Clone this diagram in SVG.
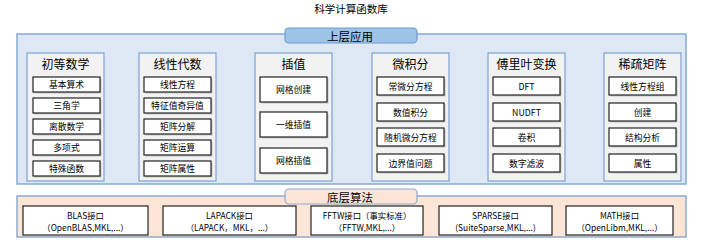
<svg xmlns="http://www.w3.org/2000/svg" width="703" height="250" viewBox="0 0 703 250">
<style>
text{font-family:"Noto Sans CJK SC","Liberation Sans",sans-serif;fill:#000;text-anchor:middle;dominant-baseline:central}
.title{font-size:10.5px}
.tab{font-size:11.5px}
.hd{font-size:12px}
.it{font-size:8.8px}
.lo{font-size:8.4px}
.up{fill:#dee8f4;stroke:#86aad2;stroke-width:1.5}
.low{fill:#fbe5d6;stroke:#8faacb;stroke-width:1.5}
.tabu{fill:#9dc3e6;stroke:#6f9bd0;stroke-width:1.2}
.tabl{fill:#fbe5d6;stroke:#8faacb;stroke-width:1.2}
.col{fill:#f2f2f2;stroke:#7aa2d2;stroke-width:1.2}
.box{fill:#fff;stroke:#222;stroke-width:1.2}
.sh{fill:#aaa;opacity:0.6}
</style>
<text class="title" x="351" y="8">科学计算函数库</text>
<g id="upper">
<rect class="up" x="17" y="34" width="669" height="150"/>
<rect class="tabu" x="285" y="28" width="132" height="15" rx="4"/>
<text class="tab" x="350" y="35.5">上层应用</text>
</g>
<g id="col1">
<rect class="col" x="27" y="53" width="77" height="128"/>
<text class="hd" x="65.5" y="63">初等数学</text>
<rect class="sh" x="34.5" y="78.5" width="67" height="15"/><rect class="box" x="33" y="77" width="67" height="15"/><text class="it" x="66.5" y="84.5">基本算术</text>
<rect class="sh" x="34.5" y="99.5" width="67" height="15"/><rect class="box" x="33" y="98" width="67" height="15"/><text class="it" x="66.5" y="105.5">三角学</text>
<rect class="sh" x="34.5" y="120.5" width="67" height="15"/><rect class="box" x="33" y="119" width="67" height="15"/><text class="it" x="66.5" y="126.5">离散数学</text>
<rect class="sh" x="34.5" y="141.5" width="67" height="15"/><rect class="box" x="33" y="140" width="67" height="15"/><text class="it" x="66.5" y="147.5">多项式</text>
<rect class="sh" x="34.5" y="162.5" width="67" height="15"/><rect class="box" x="33" y="161" width="67" height="15"/><text class="it" x="66.5" y="168.5">特殊函数</text>
</g>
<g id="col2">
<rect class="col" x="139" y="53" width="77" height="128"/>
<text class="hd" x="177.5" y="63">线性代数</text>
<rect class="sh" x="145.5" y="78.5" width="67" height="15"/><rect class="box" x="144" y="77" width="67" height="15"/><text class="it" x="177.5" y="84.5">线性方程</text>
<rect class="sh" x="145.5" y="99.5" width="67" height="15"/><rect class="box" x="144" y="98" width="67" height="15"/><text class="it" x="177.5" y="105.5">特征值奇异值</text>
<rect class="sh" x="145.5" y="120.5" width="67" height="15"/><rect class="box" x="144" y="119" width="67" height="15"/><text class="it" x="177.5" y="126.5">矩阵分解</text>
<rect class="sh" x="145.5" y="141.5" width="67" height="15"/><rect class="box" x="144" y="140" width="67" height="15"/><text class="it" x="177.5" y="147.5">矩阵运算</text>
<rect class="sh" x="145.5" y="162.5" width="67" height="15"/><rect class="box" x="144" y="161" width="67" height="15"/><text class="it" x="177.5" y="168.5">矩阵属性</text>
</g>
<g id="col3">
<rect class="col" x="255" y="53" width="77" height="128"/>
<text class="hd" x="293.5" y="63">插值</text>
<rect class="sh" x="261.5" y="78.5" width="67" height="25"/><rect class="box" x="260" y="77" width="67" height="25"/><text class="it" x="293.5" y="89.5">网格创建</text>
<rect class="sh" x="261.5" y="113.5" width="67" height="25"/><rect class="box" x="260" y="112" width="67" height="25"/><text class="it" x="293.5" y="124.5">一维插值</text>
<rect class="sh" x="261.5" y="149.5" width="67" height="25"/><rect class="box" x="260" y="148" width="67" height="25"/><text class="it" x="293.5" y="160.5">网格插值</text>
</g>
<g id="col4">
<rect class="col" x="372" y="53" width="77" height="128"/>
<text class="hd" x="410.5" y="63">微积分</text>
<rect class="sh" x="378.5" y="78.5" width="67" height="18"/><rect class="box" x="377" y="77" width="67" height="18"/><text class="it" x="410.5" y="86">常微分方程</text>
<rect class="sh" x="378.5" y="104.5" width="67" height="18"/><rect class="box" x="377" y="103" width="67" height="18"/><text class="it" x="410.5" y="112">数值积分</text>
<rect class="sh" x="378.5" y="129.5" width="67" height="18"/><rect class="box" x="377" y="128" width="67" height="18"/><text class="it" x="410.5" y="137">随机微分方程</text>
<rect class="sh" x="378.5" y="155.5" width="67" height="18"/><rect class="box" x="377" y="154" width="67" height="18"/><text class="it" x="410.5" y="163">边界值问题</text>
</g>
<g id="col5">
<rect class="col" x="488" y="53" width="77" height="128"/>
<text class="hd" x="526.5" y="63">傅里叶变换</text>
<rect class="sh" x="494.5" y="78.5" width="67" height="18"/><rect class="box" x="493" y="77" width="67" height="18"/><text class="it" x="526.5" y="86">DFT</text>
<rect class="sh" x="494.5" y="104.5" width="67" height="18"/><rect class="box" x="493" y="103" width="67" height="18"/><text class="it" x="526.5" y="112">NUDFT</text>
<rect class="sh" x="494.5" y="129.5" width="67" height="18"/><rect class="box" x="493" y="128" width="67" height="18"/><text class="it" x="526.5" y="137">卷积</text>
<rect class="sh" x="494.5" y="155.5" width="67" height="18"/><rect class="box" x="493" y="154" width="67" height="18"/><text class="it" x="526.5" y="163">数字滤波</text>
</g>
<g id="col6">
<rect class="col" x="604" y="53" width="77" height="128"/>
<text class="hd" x="642.5" y="63">稀疏矩阵</text>
<rect class="sh" x="610.5" y="78.5" width="67" height="18"/><rect class="box" x="609" y="77" width="67" height="18"/><text class="it" x="642.5" y="86">线性方程组</text>
<rect class="sh" x="610.5" y="104.5" width="67" height="18"/><rect class="box" x="609" y="103" width="67" height="18"/><text class="it" x="642.5" y="112">创建</text>
<rect class="sh" x="610.5" y="129.5" width="67" height="18"/><rect class="box" x="609" y="128" width="67" height="18"/><text class="it" x="642.5" y="137">结构分析</text>
<rect class="sh" x="610.5" y="155.5" width="67" height="18"/><rect class="box" x="609" y="154" width="67" height="18"/><text class="it" x="642.5" y="163">属性</text>
</g>
<g id="lower">
<rect class="low" x="17" y="196" width="669" height="41"/>
<rect class="tabl" x="285" y="189" width="132" height="15" rx="4"/>
<text class="tab" x="350" y="196.5">底层算法</text>
</g>
<g id="blas">
<rect class="box" x="23" y="206" width="125" height="29"/>
<text class="lo" x="85.5" y="215">BLAS接口</text>
<text class="lo" x="85.5" y="226.5">（OpenBLAS,MKL,...）</text>
</g>
<g id="lapack">
<rect class="box" x="163" y="206" width="133" height="29"/>
<text class="lo" x="229.5" y="215">LAPACK接口</text>
<text class="lo" x="229.5" y="226.5">（LAPACK，MKL，...）</text>
</g>
<g id="fftw">
<rect class="box" x="311" y="206" width="112" height="29"/>
<text class="lo" x="367" y="215">FFTW接口（事实标准）</text>
<text class="lo" x="367" y="226.5">（FFTW,MKL,...）</text>
</g>
<g id="sparse">
<rect class="box" x="439" y="206" width="113" height="29"/>
<text class="lo" x="495.5" y="215">SPARSE接口</text>
<text class="lo" x="495.5" y="226.5">(SuiteSparse,MKL,...)</text>
</g>
<g id="math">
<rect class="box" x="566" y="206" width="107" height="29"/>
<text class="lo" x="619.5" y="215">MATH接口</text>
<text class="lo" x="619.5" y="226.5">（OpenLibm,MKL,...）</text>
</g>
<g id="connectors"/>
</svg>
